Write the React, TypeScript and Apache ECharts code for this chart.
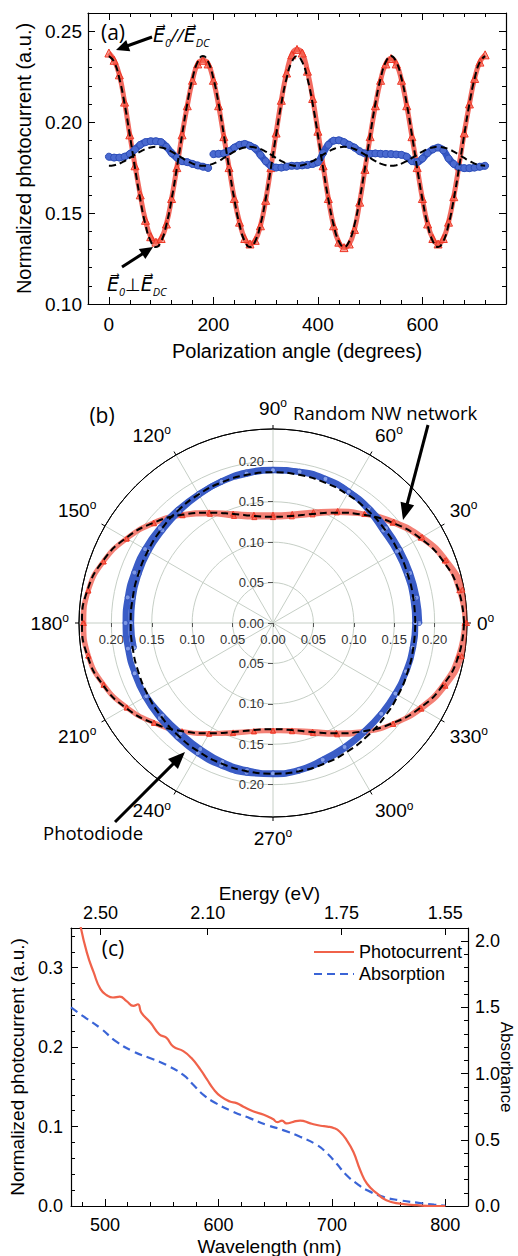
import React, { useEffect, useRef } from 'react';
import * as echarts from 'echarts';

// ---------------- Panel (a) data ----------------
const redAngles = [
  0, 10, 20, 30, 40, 50, 60, 70, 80, 90, 100, 110, 120, 130, 140, 150, 160, 170, 180, 190,
  200, 210, 220, 230, 240, 250, 260, 270, 280, 290, 300, 310, 320, 330, 340, 350, 360, 370, 380, 390,
  400, 410, 420, 430, 440, 450, 460, 470, 480, 490, 500, 510, 520, 530, 540, 550, 560, 570, 580, 590,
  600, 610, 620, 630, 640, 650, 660, 670, 680, 690, 700, 710, 720,
];
const redValues = [
  0.238, 0.234, 0.226, 0.211, 0.193, 0.176, 0.160, 0.146, 0.137, 0.134,
  0.136, 0.144, 0.158, 0.175, 0.193, 0.209, 0.223, 0.232, 0.234, 0.232,
  0.223, 0.209, 0.192, 0.175, 0.158, 0.145, 0.136, 0.133, 0.135, 0.143,
  0.157, 0.175, 0.194, 0.212, 0.227, 0.237, 0.240, 0.238, 0.228, 0.213,
  0.195, 0.176, 0.158, 0.143, 0.134, 0.131, 0.133, 0.141, 0.156, 0.174,
  0.192, 0.209, 0.223, 0.232, 0.235, 0.232, 0.223, 0.209, 0.192, 0.175,
  0.158, 0.144, 0.136, 0.133, 0.136, 0.145, 0.159, 0.176, 0.194, 0.210,
  0.224, 0.233, 0.237,
];
const redFit = [
  0.2363, 0.2331, 0.2240, 0.2101, 0.1929, 0.1747, 0.1576, 0.1436, 0.1345, 0.1313, 0.1345, 0.1436, 0.1576, 0.1747, 0.1929, 0.2101, 0.2240, 0.2331,
  0.2363, 0.2331, 0.2240, 0.2101, 0.1929, 0.1747, 0.1576, 0.1436, 0.1345, 0.1313, 0.1345, 0.1436, 0.1576, 0.1747, 0.1929, 0.2101, 0.2240, 0.2331,
  0.2363, 0.2331, 0.2240, 0.2101, 0.1929, 0.1747, 0.1576, 0.1436, 0.1345, 0.1313, 0.1345, 0.1436, 0.1576, 0.1747, 0.1929, 0.2101, 0.2240, 0.2331,
  0.2363, 0.2331, 0.2240, 0.2101, 0.1929, 0.1747, 0.1576, 0.1436, 0.1345, 0.1313, 0.1345, 0.1436, 0.1576, 0.1747, 0.1929, 0.2101, 0.2240, 0.2331,
  0.2363,
];
const blueFit = [
  0.1760, 0.1763, 0.1772, 0.1786, 0.1803, 0.1821, 0.1838, 0.1852, 0.1861, 0.1864, 0.1861, 0.1852, 0.1838, 0.1821, 0.1803, 0.1786, 0.1772, 0.1763,
  0.1760, 0.1763, 0.1772, 0.1786, 0.1803, 0.1821, 0.1838, 0.1852, 0.1861, 0.1864, 0.1861, 0.1852, 0.1838, 0.1821, 0.1803, 0.1786, 0.1772, 0.1763,
  0.1760, 0.1763, 0.1772, 0.1786, 0.1803, 0.1821, 0.1838, 0.1852, 0.1861, 0.1864, 0.1861, 0.1852, 0.1838, 0.1821, 0.1803, 0.1786, 0.1772, 0.1763,
  0.1760, 0.1763, 0.1772, 0.1786, 0.1803, 0.1821, 0.1838, 0.1852, 0.1861, 0.1864, 0.1861, 0.1852, 0.1838, 0.1821, 0.1803, 0.1786, 0.1772, 0.1763,
  0.1760,
];
const blueAngles1 = [0, 10, 20, 30, 40, 50, 60, 70, 80, 90, 100, 110, 120, 130, 140, 150, 160, 170, 180, 190];
const blueValues1 = [
  0.181, 0.1805, 0.1805, 0.181, 0.1825, 0.185, 0.1875, 0.189, 0.1895, 0.1895,
  0.189, 0.1865, 0.183, 0.1805, 0.1785, 0.178, 0.177, 0.1762, 0.1755, 0.1748,
];
const blueAngles2 = [
  200, 210, 220, 230, 240, 250, 260, 270, 280, 290, 300, 310, 320, 330, 340, 350, 360, 370, 380, 390,
  400, 410, 420, 430, 440, 450, 460, 470, 480, 490, 500, 510, 520, 530, 540, 550, 560, 570, 580, 590,
  600, 610, 620, 630, 640, 650, 660, 670, 680, 690, 700, 710, 720,
];
const blueValues2 = [
  0.1824, 0.1826, 0.1828, 0.184, 0.186, 0.1875, 0.188, 0.187, 0.1855, 0.182,
  0.1785, 0.176, 0.175, 0.175, 0.1755, 0.176, 0.176, 0.1762, 0.1765, 0.177,
  0.178, 0.183, 0.1875, 0.1898, 0.190, 0.189, 0.1875, 0.186, 0.184, 0.1828,
  0.1826, 0.1828, 0.1826, 0.1825, 0.1824, 0.1822, 0.182, 0.181, 0.1785, 0.178,
  0.180, 0.183, 0.185, 0.186, 0.1845, 0.180, 0.177, 0.1752, 0.1747, 0.1747,
  0.175, 0.1755, 0.176,
];
const xTicksA = [0, 200, 400, 600];
const yTicksA = [0.10, 0.15, 0.20, 0.25];

// ---------------- Panel (b) ticks ----------------
const polarAngleLabels = [0, 30, 60, 90, 120, 150, 180, 210, 240, 270, 300, 330];
const polarRadiusTicks = [-0.20, -0.15, -0.10, -0.05, 0, 0.05, 0.10, 0.15, 0.20];

// ---------------- Panel (c) data ----------------
const pcWavelength = [
  478, 484, 490, 496, 502, 507, 513, 519, 525, 529, 532, 540, 548, 554, 560, 569, 576, 584, 590, 596,
  602, 610, 616, 622, 631, 640, 648, 652, 656, 660, 666, 672, 681, 690, 696, 702, 707, 713, 719, 725,
  731, 740, 748, 760, 775, 790, 800,
];
const pcValue = [
  0.355, 0.319, 0.294, 0.273, 0.265, 0.2625, 0.2635, 0.258, 0.252, 0.254, 0.2435, 0.231, 0.216, 0.212, 0.201, 0.195, 0.1865, 0.172, 0.159, 0.1465,
  0.138, 0.1315, 0.1295, 0.125, 0.119, 0.115, 0.1095, 0.1055, 0.1075, 0.104, 0.106, 0.1075, 0.104, 0.101, 0.100, 0.098, 0.0935, 0.083, 0.068, 0.045,
  0.028, 0.0155, 0.0072, 0.003, 0.001, 0.0, 0.0,
];
const absWavelength = [
  470, 481, 496, 510, 525, 540, 554, 569, 578, 587, 598, 613, 628, 643, 657, 672, 687, 696, 704, 713,
  722, 731, 746, 760, 775, 790, 800,
];
const absValue = [
  1.50, 1.432, 1.343, 1.242, 1.167, 1.116, 1.066, 0.990, 0.914, 0.838, 0.775, 0.712, 0.662, 0.611, 0.573, 0.523, 0.460, 0.396, 0.321, 0.232,
  0.169, 0.119, 0.068, 0.043, 0.025, 0.010, 0.003,
];
const xTicksC = [500, 600, 700, 800];
const yTicksCLeft = [0, 0.1, 0.2, 0.3];
const yTicksCRight = [0, 0.5, 1.0, 1.5, 2.0];
const energyValues = [2.5, 2.1, 1.75, 1.55];
const energyLabels = ['2.50', '2.10', '1.75', '1.55'];

// ---------------- helpers ----------------
const steps = (a: number, b: number, s: number) => {
  const out: number[] = [];
  for (let i = 0; a + i * s <= b + 1e-9; i++) out.push(+(a + i * s).toFixed(4));
  return out;
};
const SANS = 'Liberation Sans, Arial, sans-serif';
const HUM = 'Open Sans, Noto Sans, sans-serif';

function arrow(x1: number, y1: number, x2: number, y2: number, head: number, half: number) {
  const dx = x2 - x1, dy = y2 - y1;
  const L = Math.hypot(dx, dy);
  const ux = dx / L, uy = dy / L;
  const bx = x2 - ux * head, by = y2 - uy * head;
  return [
    { type: 'line', shape: { x1, y1, x2: bx + ux * 2, y2: by + uy * 2 }, style: { stroke: '#000', lineWidth: 3 }, z: 50 },
    {
      type: 'polygon', z: 50,
      shape: { points: [[x2, y2], [bx - uy * half, by + ux * half], [bx + uy * half, by - ux * half]] },
      style: { fill: '#000' },
    },
  ];
}

type AxOpts = {
  grid: number; pos: string; min: number; max: number; line?: boolean; ticks?: number[];
  tickLen?: number; labels?: number[]; fmt?: (v: number) => string; margin?: number; fontSize?: number; extra?: any;
};
function ax(o: AxOpts) {
  return {
    type: 'value', gridIndex: o.grid, position: o.pos, min: o.min, max: o.max,
    splitLine: { show: false },
    axisLine: { show: !!o.line, onZero: false, lineStyle: { color: '#000', width: 1.2 } },
    axisTick: o.ticks
      ? { show: true, inside: true, length: o.tickLen ?? 7, customValues: o.ticks, lineStyle: { color: '#000', width: 1 } }
      : { show: false },
    axisLabel: o.labels
      ? { show: true, customValues: o.labels, formatter: o.fmt, margin: o.margin ?? 8, fontSize: o.fontSize ?? 19, color: '#000', fontFamily: SANS }
      : { show: false },
    ...(o.extra || {}),
  };
}

const mod360 = (a: number) => a % 360;

export default function App() {
  const ref = useRef<HTMLDivElement>(null);
  useEffect(() => {
    const chart = echarts.init(ref.current!, null, { renderer: 'svg' });

    const xMinorA = steps(-40, 760, 40);
    const yMinorA = steps(0.10, 0.26, 0.01);
    const xMinorC = steps(480, 820, 20);
    const yMinorCL = steps(0, 0.34, 0.02);
    const yMinorCR = steps(0, 2.1, 0.1);
    const energyTicks = energyValues.map((e) => 1240 / e);

    const nameStyle = { fontSize: 20, color: '#000', fontFamily: SANS };
    const R = 194;

    const xAxis = [
      ax({ grid: 0, pos: 'bottom', min: -40, max: 760, line: true, ticks: xTicksA, labels: xTicksA, margin: 11,
        extra: { name: 'Polarization angle (degrees)', nameLocation: 'middle', nameGap: 37, nameTextStyle: nameStyle } }),
      ax({ grid: 0, pos: 'bottom', min: -40, max: 760, ticks: xMinorA, tickLen: 4 }),
      ax({ grid: 0, pos: 'top', min: -40, max: 760, line: true, ticks: xTicksA }),
      ax({ grid: 0, pos: 'top', min: -40, max: 760, ticks: xMinorA, tickLen: 4 }),
      {
        type: 'value', gridIndex: 1, position: 'bottom', offset: -R, min: -0.24, max: 0.24,
        splitLine: { show: false },
        axisLine: { show: false, onZero: false },
        axisTick: { show: true, inside: false, length: 4, customValues: polarRadiusTicks, lineStyle: { color: '#555' } },
        axisLabel: { show: true, customValues: polarRadiusTicks, margin: 10, fontSize: 13, color: '#333', fontFamily: SANS,
          formatter: (v: number) => Math.abs(v).toFixed(2) },
      },
      ax({ grid: 2, pos: 'bottom', min: 470, max: 820, line: true, ticks: xTicksC, labels: xTicksC, margin: 10, fontSize: 18,
        extra: { name: 'Wavelength (nm)', nameLocation: 'middle', nameGap: 31, nameTextStyle: { ...nameStyle, fontSize: 19 } } }),
      ax({ grid: 2, pos: 'bottom', min: 470, max: 820, ticks: xMinorC, tickLen: 4 }),
      ax({ grid: 2, pos: 'top', min: 470, max: 820, line: true, ticks: energyTicks, labels: energyTicks, margin: 6, fontSize: 18,
        fmt: (v: number) => {
          let best = 0;
          energyTicks.forEach((t, i) => { if (Math.abs(t - v) < Math.abs(energyTicks[best] - v)) best = i; });
          return energyLabels[best];
        },
        extra: { name: 'Energy (eV)', nameLocation: 'middle', nameGap: 25, nameTextStyle: { ...nameStyle, fontSize: 19 } } }),
    ];

    const yAxis = [
      ax({ grid: 0, pos: 'left', min: 0.10, max: 0.26, line: true, ticks: yTicksA, labels: yTicksA, margin: 6,
        fmt: (v: number) => v.toFixed(2),
        extra: { name: 'Normalized photocurrent (a.u.)', nameLocation: 'middle', nameGap: 52, nameTextStyle: nameStyle } }),
      ax({ grid: 0, pos: 'left', min: 0.10, max: 0.26, ticks: yMinorA, tickLen: 4 }),
      ax({ grid: 0, pos: 'right', min: 0.10, max: 0.26, line: true, ticks: yTicksA }),
      ax({ grid: 0, pos: 'right', min: 0.10, max: 0.26, ticks: yMinorA, tickLen: 4 }),
      {
        type: 'value', gridIndex: 1, position: 'left', offset: -R, min: -0.24, max: 0.24,
        splitLine: { show: false },
        axisLine: { show: false, onZero: false },
        axisTick: { show: true, inside: false, length: 5, customValues: polarRadiusTicks, lineStyle: { color: '#555' } },
        axisLabel: { show: true, customValues: polarRadiusTicks, margin: 9, fontSize: 13, color: '#333', fontFamily: SANS,
          formatter: (v: number) => Math.abs(v).toFixed(2) },
      },
      ax({ grid: 2, pos: 'left', min: 0, max: 0.35, line: true, ticks: yTicksCLeft, labels: yTicksCLeft, margin: 8, fontSize: 18,
        fmt: (v: number) => v.toFixed(1),
        extra: { name: 'Normalized photocurrent (a.u.)', nameLocation: 'middle', nameGap: 40, nameTextStyle: { ...nameStyle, fontSize: 19 } } }),
      ax({ grid: 2, pos: 'left', min: 0, max: 0.35, ticks: yMinorCL, tickLen: 4 }),
      ax({ grid: 2, pos: 'right', min: 0, max: 2.1, line: true, ticks: yTicksCRight, labels: yTicksCRight, margin: 7, fontSize: 18,
        fmt: (v: number) => v.toFixed(1),
        extra: { name: 'Absorbance', nameLocation: 'middle', nameGap: 30, nameRotate: -90, nameMoveOverlap: false,
          nameTextStyle: { fontSize: 17, lineHeight: 17, color: '#000', fontFamily: SANS } } }),
      ax({ grid: 2, pos: 'right', min: 0, max: 2.1, ticks: yMinorCR, tickLen: 4 }),
    ];

    const redLine = { color: 'rgba(238,55,40,0.75)', width: 5 };
    const redItem = { color: 'rgba(245,90,70,0.55)', borderColor: '#ee3524', borderWidth: 1 };
    const blueLine = { color: '#3456c4', width: 7 };
    const blueItem = { color: '#4a6ad0', borderColor: '#2f4fb8', borderWidth: 1 };
    const fitLine = { color: '#000', width: 2, type: [7, 4] };

    const series: any[] = [
      // panel (a)
      { name: 'red-a', type: 'line', xAxisIndex: 0, yAxisIndex: 0, smooth: true, symbol: 'triangle', symbolSize: 8,
        lineStyle: redLine, itemStyle: redItem, data: redAngles.map((a, i) => [a, redValues[i]]), z: 3 },
      { name: 'blue-a1', type: 'line', xAxisIndex: 0, yAxisIndex: 0, smooth: true, symbol: 'circle', symbolSize: 7,
        lineStyle: blueLine, itemStyle: blueItem, data: blueAngles1.map((a, i) => [a, blueValues1[i]]), z: 4 },
      { name: 'blue-a2', type: 'line', xAxisIndex: 0, yAxisIndex: 0, smooth: true, symbol: 'circle', symbolSize: 7,
        lineStyle: blueLine, itemStyle: blueItem, data: blueAngles2.map((a, i) => [a, blueValues2[i]]), z: 4 },
      { name: 'redfit-a', type: 'line', xAxisIndex: 0, yAxisIndex: 0, smooth: true, symbol: 'none',
        lineStyle: fitLine, data: redAngles.map((a, i) => [a, redFit[i]]), z: 6 },
      { name: 'bluefit-a', type: 'line', xAxisIndex: 0, yAxisIndex: 0, smooth: true, symbol: 'none',
        lineStyle: fitLine, data: redAngles.map((a, i) => [a, blueFit[i]]), z: 6 },
      // panel (b) polar
      { name: 'red-b', type: 'line', coordinateSystem: 'polar', polarIndex: 0, smooth: true, symbol: 'triangle', symbolSize: 5,
        lineStyle: { color: 'rgba(238,62,45,0.65)', width: 5 }, itemStyle: { color: 'rgba(245,100,80,0.5)', borderColor: '#ee3b2a', borderWidth: 1 },
        data: redAngles.map((a, i) => [redValues[i], mod360(a)]), z: 3 },
      { name: 'blue-b1', type: 'line', coordinateSystem: 'polar', polarIndex: 0, smooth: true, symbol: 'circle', symbolSize: 5,
        lineStyle: { color: '#3a5cc6', width: 6 }, itemStyle: { color: 'rgba(140,165,235,0.8)', borderColor: '#3353bd', borderWidth: 1 },
        data: blueAngles1.map((a, i) => [blueValues1[i], mod360(a)]), z: 4 },
      { name: 'blue-b2', type: 'line', coordinateSystem: 'polar', polarIndex: 0, smooth: true, symbol: 'circle', symbolSize: 5,
        lineStyle: { color: '#3a5cc6', width: 6 }, itemStyle: { color: 'rgba(140,165,235,0.8)', borderColor: '#3353bd', borderWidth: 1 },
        data: blueAngles2.map((a, i) => [blueValues2[i], mod360(a)]), z: 4 },
      { name: 'redfit-b', type: 'line', coordinateSystem: 'polar', polarIndex: 0, smooth: true, symbol: 'none',
        lineStyle: fitLine, data: redAngles.slice(0, 37).map((a, i) => [redFit[i], a]), z: 6 },
      { name: 'bluefit-b', type: 'line', coordinateSystem: 'polar', polarIndex: 0, smooth: true, symbol: 'none',
        lineStyle: fitLine, data: redAngles.slice(0, 37).map((a, i) => [blueFit[i], a]), z: 6 },
      // panel (c)
      { name: 'Photocurrent', type: 'line', xAxisIndex: 5, yAxisIndex: 5, smooth: true, symbol: 'none',
        lineStyle: { color: '#f0624a', width: 2.2 }, itemStyle: { color: '#f0624a' },
        data: pcWavelength.map((w, i) => [w, pcValue[i]]), z: 4 },
      { name: 'Absorption', type: 'line', xAxisIndex: 5, yAxisIndex: 7, smooth: true, symbol: 'none',
        lineStyle: { color: '#3a64d6', width: 2.2, type: [8, 5] }, itemStyle: { color: '#3a64d6' },
        data: absWavelength.map((w, i) => [w, absValue[i]]), z: 3 },
    ];

    const sub = { fontSize: 11, fontFamily: HUM, fontStyle: 'italic', verticalAlign: 'bottom', lineHeight: 12, fill: '#000' };
    const vec = { fontSize: 19, fontFamily: 'DejaVu Sans', fontStyle: 'italic', lineHeight: 26, fill: '#000' };
    const mid = { fontSize: 18, fontFamily: HUM, fontStyle: 'italic', lineHeight: 26, fill: '#000' };

    const graphic: any[] = [
      { type: 'text', x: 113, y: 32, z: 50, style: { text: '(a)', fontSize: 21, fontFamily: HUM, align: 'center', verticalAlign: 'middle', fill: '#000' } },
      { type: 'text', x: 102, y: 415, z: 50, style: { text: '(b)', fontSize: 21, fontFamily: HUM, align: 'center', verticalAlign: 'middle', fill: '#000' } },
      { type: 'text', x: 113, y: 948, z: 50, style: { text: '(c)', fontSize: 21, fontFamily: HUM, align: 'center', verticalAlign: 'middle', fill: '#000' } },
      { type: 'text', x: 153, y: 35, z: 50, style: { text: '{v|E\u20D7}{s|0}{m|//}{v|E\u20D7}{s|DC}', align: 'left', verticalAlign: 'middle',
        rich: { v: vec, s: sub, m: mid } } },
      { type: 'text', x: 107, y: 284, z: 50, style: { text: '{v|E\u20D7}{s|0}{m|\u22A5}{v|E\u20D7}{s|DC}', align: 'left', verticalAlign: 'middle',
        rich: { v: vec, s: sub, m: { ...mid, fontStyle: 'normal', fontFamily: 'DejaVu Sans' } } } },
      { type: 'text', x: 293, y: 412, z: 50, style: { text: 'Random NW network', fontSize: 18.5, fontFamily: HUM, align: 'left', verticalAlign: 'middle', fill: '#000' } },
      { type: 'text', x: 43, y: 832, z: 50, style: { text: 'Photodiode', fontSize: 18.5, fontFamily: HUM, align: 'left', verticalAlign: 'middle', fill: '#000' } },
      ...arrow(152, 37, 116, 50, 13, 6),
      ...arrow(122, 267, 153, 247, 13, 6),
      ...arrow(428, 425, 403, 520, 17, 7),
      ...arrow(115, 822, 185, 752, 17, 7),
    ];

    const option: any = {
      animation: false,
      backgroundColor: '#fff',
      textStyle: { fontFamily: SANS },
      grid: [
        { left: 88, top: 13, width: 418, height: 291, outerBoundsMode: 'none' },
        { left: 273 - R, top: 623 - R, width: 2 * R, height: 2 * R, outerBoundsMode: 'none' },
        { left: 71, top: 928, width: 397, height: 278, outerBoundsMode: 'none' },
      ],
      polar: { center: [273, 623], radius: R },
      angleAxis: {
        type: 'value', min: 0, max: 360, interval: 30, startAngle: 0, clockwise: false,
        axisLine: { show: true, lineStyle: { color: '#000', width: 1 } },
        axisTick: { show: true, inside: false, length: 4, lineStyle: { color: '#000' } },
        splitLine: { show: true, lineStyle: { color: '#c6cfc6', width: 1 } },
        axisLabel: {
          show: true, margin: 10,
          formatter: (v: number) => (polarAngleLabels.indexOf(v) >= 0 ? `{n|${v}}{s|o}` : ''),
          rich: {
            n: { fontSize: 19, fontFamily: SANS, color: '#000', lineHeight: 22 },
            s: { fontSize: 12, fontFamily: SANS, color: '#000', verticalAlign: 'top', lineHeight: 12 },
          },
        },
      },
      radiusAxis: {
        type: 'value', min: 0, max: 0.24, interval: 0.05,
        axisLine: { show: false }, axisTick: { show: false }, axisLabel: { show: false },
        splitLine: { show: true, lineStyle: { color: ['#c6cfc6', '#c6cfc6', '#c6cfc6', '#c6cfc6', '#c6cfc6', '#000'], width: 1 } },
      },
      xAxis, yAxis, series, graphic,
      legend: {
        data: ['Photocurrent', 'Absorption'], orient: 'vertical', left: 308, top: 938,
        itemWidth: 40, itemHeight: 14, itemGap: 4,
        itemStyle: { opacity: 0 },
        textStyle: { fontSize: 18, color: '#000', fontFamily: SANS, lineHeight: 18 },
      },
    };
    chart.setOption(option);
    return () => chart.dispose();
  }, []);
  return <div ref={ref} style={{ position: 'absolute', left: 0, top: 0, width: 518, height: 1256, background: '#fff' }} />;
}
